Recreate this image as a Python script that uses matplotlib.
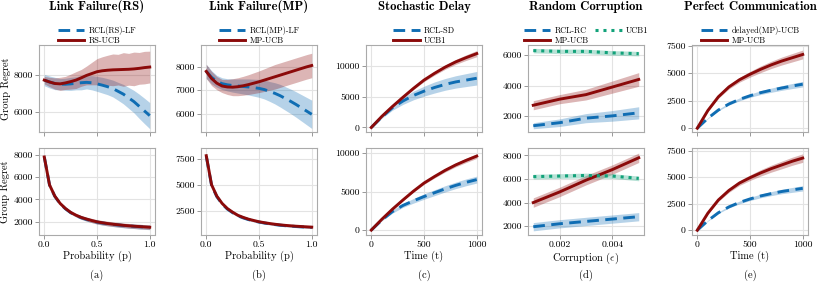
import numpy as np
import matplotlib
matplotlib.use("Agg")
import matplotlib.pyplot as plt

plt.rcParams['font.family'] = ['cmr10', 'DejaVu Serif']
plt.rcParams['mathtext.fontset'] = 'cm'
plt.rcParams['axes.unicode_minus'] = False
plt.rcParams['axes.formatter.use_mathtext'] = False

# ---------------- data ----------------
prob = [0.0, 0.05, 0.1, 0.15, 0.2, 0.25, 0.3, 0.35, 0.4, 0.45, 0.5,
        0.55, 0.6, 0.65, 0.7, 0.75, 0.8, 0.85, 0.9, 0.95, 1.0]
time_t = [0, 100, 200, 300, 400, 500, 600, 700, 800, 900, 1000]
corruption = [0.001, 0.002, 0.003, 0.004, 0.005]

# (a) Link Failure (RS) - top
a_top_rcl = [7700, 7600, 7520, 7480, 7480, 7500, 7530, 7560, 7580, 7560, 7500,
             7430, 7350, 7250, 7100, 6950, 6750, 6550, 6300, 6050, 5800]
a_top_rcl_sd = [300, 320, 330, 300, 320, 350, 350, 380, 350, 380, 400,
                420, 430, 450, 480, 520, 560, 600, 650, 680, 700]
a_top_rs = [7700, 7600, 7520, 7500, 7550, 7620, 7700, 7820, 7950, 8050, 8150,
            8200, 8230, 8250, 8260, 8270, 8280, 8300, 8330, 8370, 8400]
a_top_rs_sd = [200, 250, 300, 350, 350, 400, 450, 450, 500, 600, 700,
               750, 800, 850, 820, 900, 850, 900, 850, 870, 850]
# (a) bottom
a_bot_rcl = [7800, 5280, 4280, 3620, 3170, 2820, 2570, 2370, 2220, 2100, 1980,
             1900, 1830, 1770, 1720, 1670, 1630, 1600, 1570, 1540, 1510]
a_bot_rcl_sd = [60, 80, 90, 100, 110, 120, 130, 140, 150, 160, 170,
                180, 180, 190, 190, 200, 200, 200, 210, 210, 210]
a_bot_rs = [7800, 5300, 4300, 3650, 3200, 2850, 2600, 2400, 2250, 2120, 2000,
            1920, 1850, 1790, 1740, 1690, 1650, 1610, 1580, 1550, 1520]
a_bot_rs_sd = [60, 80, 90, 100, 120, 140, 150, 170, 180, 190, 200,
               200, 210, 200, 210, 200, 210, 200, 210, 200, 200]

# (b) Link Failure (MP) - top
b_top_rcl = [7800, 7550, 7380, 7280, 7230, 7200, 7180, 7160, 7140, 7110, 7080,
             7030, 6950, 6870, 6770, 6650, 6530, 6400, 6260, 6120, 5980]
b_top_rcl_sd = [300, 280, 250, 250, 260, 280, 300, 320, 340, 360, 380,
                400, 420, 450, 480, 500, 520, 540, 560, 580, 600]
b_top_mp = [7800, 7500, 7300, 7180, 7140, 7130, 7150, 7190, 7240, 7300, 7360,
            7430, 7500, 7570, 7640, 7710, 7780, 7850, 7920, 7990, 8050]
b_top_mp_sd = [300, 300, 280, 280, 320, 360, 380, 400, 420, 440, 460,
               480, 500, 520, 520, 520, 520, 520, 520, 520, 520]
# (b) bottom
b_bot_rcl = [7750, 4950, 3850, 3150, 2650, 2300, 2000, 1800, 1640, 1510, 1400,
             1310, 1230, 1160, 1100, 1050, 1010, 970, 940, 910, 880]
b_bot_rcl_sd = [60, 80, 90, 100, 110, 110, 110, 110, 110, 110, 110,
                110, 110, 110, 110, 110, 110, 110, 110, 110, 110]
b_bot_mp = [7800, 5000, 3900, 3200, 2700, 2350, 2050, 1850, 1680, 1550, 1430,
            1340, 1260, 1190, 1130, 1080, 1040, 1000, 970, 940, 910]
b_bot_mp_sd = [60, 80, 90, 100, 110, 110, 110, 110, 110, 110, 110,
               110, 110, 110, 110, 110, 110, 110, 110, 110, 110]

# (c) Stochastic Delay
c_top_rcl = [0, 1700, 3200, 4300, 5200, 5900, 6500, 7000, 7400, 7700, 8000]
c_top_rcl_sd = [0, 200, 400, 550, 700, 800, 900, 950, 1000, 1050, 1100]
c_top_ucb = [0, 1800, 3400, 4900, 6350, 7700, 8800, 9800, 10650, 11350, 12000]
c_top_ucb_sd = [0, 50, 100, 150, 200, 250, 300, 350, 400, 450, 500]
c_bot_rcl = [0, 1300, 2400, 3200, 3800, 4350, 4850, 5350, 5800, 6200, 6550]
c_bot_rcl_sd = [0, 100, 200, 250, 300, 350, 380, 400, 420, 440, 450]
c_bot_ucb = [0, 1400, 2700, 3900, 5050, 6100, 6950, 7750, 8450, 9050, 9600]
c_bot_ucb_sd = [0, 50, 80, 100, 130, 160, 190, 220, 250, 280, 300]

# (d) Random Corruption
d_top_rcl = [1350, 1550, 1850, 2000, 2200]
d_top_rcl_sd = [200, 250, 300, 350, 400]
d_top_mp = [2700, 3100, 3400, 3900, 4400]
d_top_mp_sd = [300, 300, 350, 400, 450]
d_top_ucb = [6300, 6250, 6250, 6150, 6100]
d_top_ucb_sd = [150, 150, 150, 150, 150]
d_bot_rcl = [1950, 2200, 2400, 2600, 2800]
d_bot_rcl_sd = [350, 350, 350, 350, 350]
d_bot_mp = [4000, 4900, 5900, 6800, 7800]
d_bot_mp_sd = [400, 400, 400, 400, 400]
d_bot_ucb = [6200, 6250, 6300, 6250, 6050]
d_bot_ucb_sd = [200, 200, 200, 200, 200]

# (e) Perfect Communication
e_top_del = [0, 900, 1650, 2200, 2620, 2950, 3230, 3450, 3650, 3830, 4000]
e_top_del_sd = [0, 40, 70, 100, 130, 150, 170, 190, 210, 230, 250]
e_top_mp = [0, 1600, 2850, 3750, 4400, 4900, 5350, 5750, 6100, 6400, 6700]
e_top_mp_sd = [0, 80, 130, 180, 220, 260, 300, 330, 360, 380, 400]
e_bot_del = [0, 900, 1650, 2200, 2620, 2950, 3230, 3450, 3650, 3800, 3950]
e_bot_del_sd = [0, 40, 70, 100, 130, 150, 170, 190, 210, 230, 250]
e_bot_mp = [0, 1600, 2850, 3750, 4450, 4950, 5400, 5800, 6150, 6500, 6800]
e_bot_mp_sd = [0, 80, 130, 180, 220, 260, 300, 330, 360, 380, 400]

titles = ["Link Failure(RS)", "Link Failure(MP)", "Stochastic Delay",
          "Random Corruption", "Perfect Communication"]
xlabels = ["Probability (p)", "Probability (p)", "Time (t)",
           r"Corruption ($\epsilon$)", "Time (t)"]
sublabels = ["(a)", "(b)", "(c)", "(d)", "(e)"]

BLUE = '#0f6db3'
RED = '#8b0a0a'
GREEN = '#12a27a'

# ---------------- figure ----------------
W, H = 822, 284
fig = plt.figure(figsize=(W / 100, H / 100), dpi=100)

lefts = [39, 201, 366, 528, 692]
aw = 116
top_row = (45, 131.5)
bot_row = (148, 234.5)


def mkax(left, rows):
    t, b = rows
    return fig.add_axes([left / W, 1 - b / H, aw / W, (b - t) / H])


def style(ax):
    ax.set_facecolor('white')
    ax.grid(True, color='#e3e3e3', lw=0.8)
    ax.set_axisbelow(True)
    for s in ax.spines.values():
        s.set_color('#aaaaaa')
        s.set_linewidth(0.8)
    ax.tick_params(labelsize=7, length=3, width=0.6, color='#888888', pad=1.5)


def band(ax, x, m, sd, color, alpha):
    m = np.asarray(m, float)
    sd = np.asarray(sd, float)
    ax.fill_between(x, m - sd, m + sd, color=color, alpha=alpha, lw=0)


def dashed(ax, x, m, sd, label):
    band(ax, x, m, sd, BLUE, 0.3)
    ax.plot(x, m, color=BLUE, lw=2.1, ls=(0, (4, 2.2)), label=label)


def solid(ax, x, m, sd, label):
    band(ax, x, m, sd, RED, 0.3)
    ax.plot(x, m, color=RED, lw=2.1, label=label)


def dotted(ax, x, m, sd, label):
    band(ax, x, m, sd, GREEN, 0.3)
    ax.plot(x, m, color=GREEN, lw=2.2, ls=(0, (1, 1.6)), label=label)


panels = [
    (prob, [(dashed, a_top_rcl, a_top_rcl_sd, "RCL(RS)-LF"), (solid, a_top_rs, a_top_rs_sd, "RS-UCB")],
     [(dashed, a_bot_rcl, a_bot_rcl_sd, None), (solid, a_bot_rs, a_bot_rs_sd, None)],
     (4950, 9580), (870, 8600), [0, 0.5, 1.0], ["0.0", "0.5", "1.0"]),
    (prob, [(dashed, b_top_rcl, b_top_rcl_sd, "RCL(MP)-LF"), (solid, b_top_mp, b_top_mp_sd, "MP-UCB")],
     [(dashed, b_bot_rcl, b_bot_rcl_sd, None), (solid, b_bot_mp, b_bot_mp_sd, None)],
     (5250, 8920), (200, 8540), [0, 0.5, 1.0], ["0.0", "0.5", "1.0"]),
    (time_t, [(dashed, c_top_rcl, c_top_rcl_sd, "RCL-SD"), (solid, c_top_ucb, c_top_ucb_sd, "UCB1")],
     [(dashed, c_bot_rcl, c_bot_rcl_sd, None), (solid, c_bot_ucb, c_bot_ucb_sd, None)],
     (-650, 13400), (-570, 10650), [0, 500, 1000], ["0", "500", "1000"]),
    (corruption, [(dashed, d_top_rcl, d_top_rcl_sd, "RCL-RC"), (solid, d_top_mp, d_top_mp_sd, "MP-UCB"),
                  (dotted, d_top_ucb, d_top_ucb_sd, "UCB1")],
     [(dashed, d_bot_rcl, d_bot_rcl_sd, None), (solid, d_bot_mp, d_bot_mp_sd, None),
      (dotted, d_bot_ucb, d_bot_ucb_sd, None)],
     (970, 6670), (1290, 8630), [0.002, 0.004], ["0.002", "0.004"]),
    (time_t, [(dashed, e_top_del, e_top_del_sd, "delayed(MP)-UCB"), (solid, e_top_mp, e_top_mp_sd, "MP-UCB")],
     [(dashed, e_bot_del, e_bot_del_sd, None), (solid, e_bot_mp, e_bot_mp_sd, None)],
     (-300, 7560), (-400, 7750), [0, 500, 1000], ["0", "500", "1000"]),
]

ytick_sets = [
    ([6000, 8000], [2000, 4000, 6000, 8000]),
    ([6000, 7000, 8000], [2500, 5000, 7500]),
    ([0, 5000, 10000], [0, 5000, 10000]),
    ([2000, 4000, 6000], [2000, 4000, 6000, 8000]),
    ([0, 2500, 5000, 7500], [0, 2500, 5000, 7500]),
]

for i, (x, top_series, bot_series, ylt, ylb, xt, xtl) in enumerate(panels):
    axt = mkax(lefts[i], top_row)
    axb = mkax(lefts[i], bot_row)
    for ax in (axt, axb):
        style(ax)
    for fn, m, sd, lab in top_series:
        fn(axt, x, m, sd, lab)
    for fn, m, sd, lab in bot_series:
        fn(axb, x, m, sd, lab)
    axt.set_ylim(*ylt)
    axb.set_ylim(*ylb)
    for ax in (axt, axb):
        ax.margins(x=0.05)
        ax.set_xticks(xt)
    axt.set_xticklabels([])
    axb.set_xticklabels(xtl)
    axt.set_yticks(ytick_sets[i][0])
    axb.set_yticks(ytick_sets[i][1])
    axt.set_yticklabels([str(v) for v in ytick_sets[i][0]])
    axb.set_yticklabels([str(v) for v in ytick_sets[i][1]])
    axb.set_xlabel(xlabels[i], fontsize=7.5, labelpad=1)
    axt.set_title(titles[i], fontsize=9.2, family=['cmb10', 'DejaVu Serif'], pad=25)
    ncol = 2 if len(top_series) == 3 else 1
    leg = axt.legend(loc='lower center', bbox_to_anchor=(0.5, 0.98), ncol=ncol,
                     frameon=False, fontsize=6, handlelength=3.2, borderaxespad=0.1,
                     labelspacing=0.25, columnspacing=0.8, handletextpad=0.5,
                     borderpad=0.1)
    fig.text((lefts[i] + aw / 2) / W, 1 - 275 / H, sublabels[i], ha='center',
             va='center', fontsize=7.5)
    if i == 0:
        axt.set_ylabel("Group Regret", fontsize=7.5, labelpad=2)
        axb.set_ylabel("Group Regret", fontsize=7.5, labelpad=2)

fig.savefig("out.png", dpi=100, facecolor='white')
